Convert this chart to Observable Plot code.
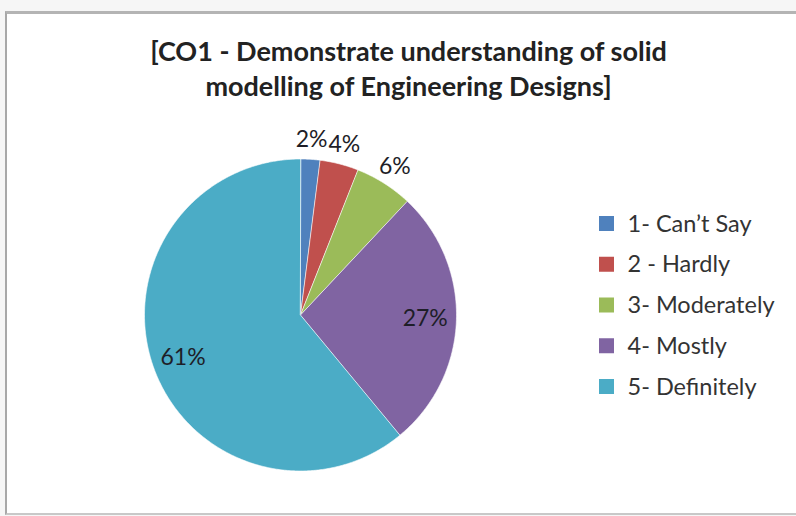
<!DOCTYPE html>
<html>
<head>
<meta charset="utf-8">
<script src="https://cdn.jsdelivr.net/npm/d3@7"></script>
<script src="https://cdn.jsdelivr.net/npm/@observablehq/plot@0.6"></script>
<style>
  html, body { margin: 0; padding: 0; background: #ffffff; }
  #wrap { position: relative; width: 796px; height: 516px; overflow: hidden; background: #f6f6f6; }
  #frame { position: absolute; left: 5px; top: 11px; width: 820px; height: 499px;
           background: #ffffff; border-top: 3px solid #b4b4b4; border-left: 2px solid #a8a8a8; border-bottom: 2px solid #c8c8c8; }
  #chart { position: absolute; left: 0; top: 0; }
</style>
</head>
<body>
<div id="wrap"><div id="frame"></div><div id="chart"></div></div>
<script>
// ---- data ----
const categories = ["1- Can\u2019t Say", "2 - Hardly", "3- Moderately", "4- Mostly", "5- Definitely"];
const values = [2, 4, 6, 27, 61];
const percentLabels = ["2%", "4%", "6%", "27%", "61%"];
const colors = ["#4F81BD", "#C0504D", "#9BBB59", "#8064A2", "#4BACC6"];
const titleLines = ["[CO1 - Demonstrate understanding of solid", "modelling of Engineering Designs]"];

// ---- layout ----
const W = 796, H = 516;
const cx = 300, cy = 314.5, R = 156;
const font = "Lato, 'Open Sans', sans-serif";

const total = d3.sum(values);
const slices = [];
let cum = 0;
values.forEach((v, i) => {
  const a0 = cum / total * 2 * Math.PI;
  cum += v;
  const a1 = cum / total * 2 * Math.PI;
  slices.push({cat: categories[i], a0, a1, v, label: percentLabels[i]});
});

// polygon points for each slice
const pts = [];
slices.forEach(s => {
  pts.push({cat: s.cat, x: cx, y: cy});
  const n = Math.max(2, Math.ceil((s.a1 - s.a0) / (Math.PI / 360)));
  for (let k = 0; k <= n; k++) {
    const a = s.a0 + (s.a1 - s.a0) * k / n;
    pts.push({cat: s.cat, x: cx + R * Math.sin(a), y: cy - R * Math.cos(a)});
  }
});

// label positions: small slices outside, big ones inside
const lab = slices.map(s => {
  const am = (s.a0 + s.a1) / 2;
  const inside = s.v / total > 0.1;
  const rr = inside ? R * 0.8 : R + 20;
  return {text: s.label, x: cx + rr * Math.sin(am), y: cy - rr * Math.cos(am)};
});

const legendX = 599, legendTop = 223.5, legendStep = 40.75, sq = 15;
const legend = categories.map((c, i) => ({cat: c, y: legendTop + i * legendStep}));

const titleX = 408, titleBase = [60, 95];
const title = titleLines.map((t, i) => ({t, y: titleBase[i]}));

const chart = Plot.plot({
  width: W, height: H,
  margin: 0,
  style: {background: "transparent", fontFamily: font},
  x: {domain: [0, W], range: [0, W], axis: null},
  y: {domain: [0, H], range: [0, H], axis: null},
  color: {domain: categories, range: colors},
  marks: [
    Plot.line(pts, {x: "x", y: "y", z: "cat", fill: "cat", stroke: "#ffffff", strokeWidth: 1, strokeOpacity: 0.6, curve: "linear-closed"}),
    Plot.text(lab, {x: "x", y: "y", text: "text", fontSize: 23, fill: "#1e1e28", lineAnchor: "middle", textAnchor: "middle"}),
    Plot.rect(legend, {x1: d => legendX, x2: d => legendX + sq, y1: d => d.y - sq / 2, y2: d => d.y + sq / 2, fill: "cat"}),
    Plot.text(legend, {x: d => legendX + sq + 13, y: "y", text: "cat", fontSize: 23.5, fill: "#333", textAnchor: "start", lineAnchor: "middle"}),
    Plot.text(title, {x: d => titleX, y: "y", text: "t", fontSize: 27, fontWeight: "bold", fill: "#222", textAnchor: "middle", lineAnchor: "bottom"})
  ]
});
document.getElementById("chart").appendChild(chart);
</script>
</body>
</html>
